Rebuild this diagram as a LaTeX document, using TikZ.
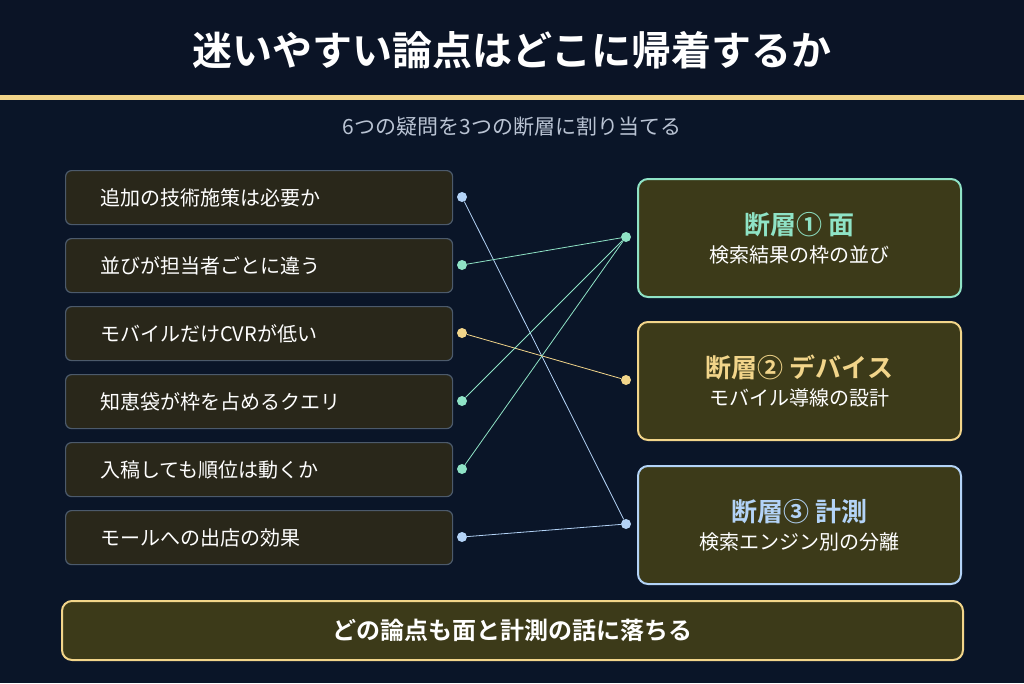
\documentclass[tikz,border=0pt]{standalone}
\usepackage{fontspec}
\setmainfont{Noto Sans CJK JP}
\newfontfamily\bfj{Noto Sans CJK JP Bold}
\begin{document}
\definecolor{bg}{HTML}{0A1528}
\definecolor{bgb}{HTML}{0B1426}
\definecolor{gold}{HTML}{F2D58A}
\definecolor{grn}{HTML}{8FE3C6}
\definecolor{blu}{HTML}{B3D3F7}
\definecolor{qfill}{HTML}{29271A}
\definecolor{qline}{HTML}{4C5A6B}
\definecolor{afill}{HTML}{3C3A19}
\definecolor{sub}{HTML}{B9C3D3}
\begin{tikzpicture}[x=1pt,y=-1pt,
 q/.style={draw=qline,fill=qfill,rounded corners=6pt,line width=1.2pt,minimum width=387pt,minimum height=54pt,anchor=north west,text=white,font=\fontsize{20}{24}\selectfont,inner xsep=0pt,align=left,text width=364pt},
 a/.style={fill=afill,rounded corners=10pt,line width=2pt,minimum width=323pt,minimum height=118pt,anchor=north west,align=center,text=white},
 dot/.style={circle,inner sep=0pt,minimum size=10pt},
 ln/.style={line width=0.8pt}]
\useasboundingbox (0,0) rectangle (1024,683);
\fill[bg] (0,0) rectangle (1024,683);
\fill[bgb] (0,0) rectangle (1024,95);
\fill[gold] (0,95) rectangle (1024,100);
\node[text=white,font=\bfj\fontsize{40}{46}\selectfont] (title) at (512,50) {迷いやすい論点はどこに帰着するか};
\node[text=sub,font=\fontsize{21}{25}\selectfont] (sub) at (512,127) {6つの疑問を3つの断層に割り当てる};
\foreach \i/\t in {1/追加の技術施策は必要か,2/並びが担当者ごとに違う,3/モバイルだけCVRが低い,4/知恵袋が枠を占めるクエリ,5/入稿しても順位は動くか,6/モールへの出店の効果}{
 \node[q] (q\i) at (65,{170+68*(\i-1)}) {\hspace*{23pt}\t};}
\node[a,draw=grn] (a1) at (637,178) {{\bfj\fontsize{26}{30}\selectfont\textcolor{grn}{断層① 面}}\\[8pt]{\fontsize{20}{24}\selectfont 検索結果の枠の並び}};
\node[a,draw=gold] (a2) at (637,321) {{\bfj\fontsize{26}{30}\selectfont\textcolor{gold}{断層② デバイス}}\\[8pt]{\fontsize{20}{24}\selectfont モバイル導線の設計}};
\node[a,draw=blu] (a3) at (637,465) {{\bfj\fontsize{26}{30}\selectfont\textcolor{blu}{断層③ 計測}}\\[8pt]{\fontsize{20}{24}\selectfont 検索エンジン別の分離}};
\node[draw=gold,fill=afill,rounded corners=10pt,line width=2pt,minimum width=901pt,minimum height=59pt,text=white,font=\bfj\fontsize{24}{28}\selectfont] (bot) at (512.5,630.5) {どの論点も面と計測の話に落ちる};
\foreach \i/\c in {1/blu,2/grn,3/gold,4/grn,5/grn,6/blu}{
 \node[dot,fill=\c] (l\i) at (462,{197+68*(\i-1)}) {};}
\node[dot,fill=grn] (r1) at (626,237) {};
\node[dot,fill=gold] (r2) at (626,380) {};
\node[dot,fill=blu] (r3) at (626,524) {};
\draw[ln,blu] (l1) -- (r3);
\draw[ln,grn] (l2) -- (r1);
\draw[ln,gold] (l3) -- (r2);
\draw[ln,grn] (l4) -- (r1);
\draw[ln,grn] (l5) -- (r1);
\draw[ln,blu] (l6) -- (r3);
\end{tikzpicture}
\end{document}
